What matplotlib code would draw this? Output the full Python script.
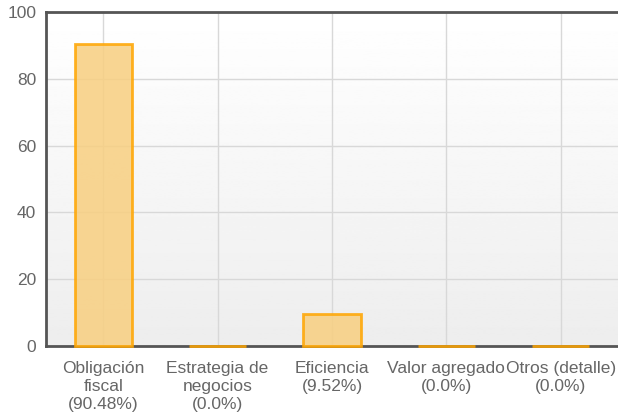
import numpy as np
import matplotlib.pyplot as plt

categories = ["Obligación\nfiscal\n(90.48%)", "Estrategia de\nnegocios\n(0.0%)",
              "Eficiencia\n(9.52%)", "Valor agregado\n(0.0%)", "Otros (detalle)\n(0.0%)"]
values = [90.48, 0.0, 9.52, 0.0, 0.0]
yticks = [0, 20, 40, 60, 80, 100]

plt.rcParams['font.family'] = ['Liberation Sans', 'DejaVu Sans']

fig = plt.figure(figsize=(6.18, 4.18), dpi=100)
ax = fig.add_axes([46 / 618, 1 - 346 / 418, 572 / 618, 334 / 418])

x = np.arange(len(categories))
ax.set_xlim(-0.5, len(categories) - 0.5)
ax.set_ylim(0, 100)

# background gradient: white at top to light grey at bottom
grad = np.linspace(0.93, 1.0, 256).reshape(-1, 1)
ax.imshow(grad, cmap='gray', vmin=0, vmax=1, aspect='auto',
          extent=[-0.5, len(categories) - 0.5, 0, 100], origin='lower', zorder=0)

ax.set_axisbelow(True)
ax.grid(True, color='#d8d8d8', linewidth=1, zorder=1)

bars = ax.bar(x, values, width=0.5, color='#f8cf80', alpha=0.85, edgecolor='#ffa500',
              linewidth=2, zorder=3)
for b in bars:
    b.set_clip_on(False)

ax.set_xticks(x)
ax.set_xticklabels(categories, fontsize=12.5, color='#666666', linespacing=1.28)
ax.set_yticks(yticks)
ax.set_yticklabels([str(v) for v in yticks], fontsize=12.5, color='#666666')
ax.tick_params(axis='x', length=0, pad=10.5)
ax.tick_params(axis='y', length=0, pad=7)

for side in ['left', 'bottom', 'top']:
    ax.spines[side].set_color('#555555')
    ax.spines[side].set_linewidth(2)
    ax.spines[side].set_zorder(2)
ax.spines['right'].set_visible(False)

fig.savefig('out.png', dpi=100)
